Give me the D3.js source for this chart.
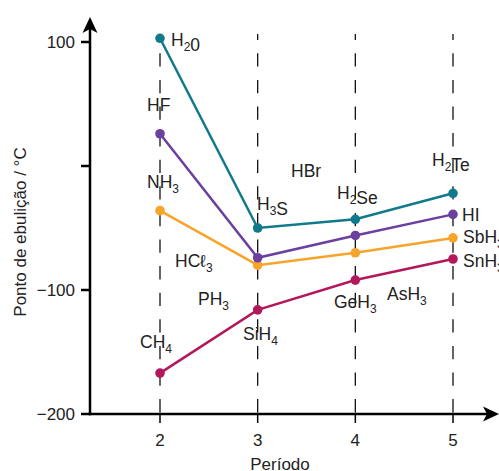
<!DOCTYPE html>
<html>
<head>
<meta charset="utf-8">
<script src="https://cdn.jsdelivr.net/npm/d3@7"></script>
<style>
  body { margin: 0; background: #fff; }
  svg { display: block; font-family: "Liberation Sans", Arial, sans-serif; }
</style>
</head>
<body>
<svg id="drawing_region"></svg>
<script>
// data
const periods = [2, 3, 4, 5];
const group14 = [-167, -116, -92, -75];   // CH4, SiH4, GeH3, SnH3
const group15 = [-36, -80, -70, -58];     // NH3, PH3, AsH3, SbH3
const group16 = [103, -50, -43, -22];     // H2O, H3S, H2Se, H2Te
const group17 = [26, -74, -56, -39];      // HF, HCl, HBr, HI
const yTicks = [100, 0, -100, -200];
const yTickLabels = ['100', '', '\u2212100', '\u2212200'];

const seriesList = [
  { name: 'g14', values: group14, color: '#b3195a' },
  { name: 'g15', values: group15, color: '#f6a52a' },
  { name: 'g17', values: group17, color: '#6b409e' },
  { name: 'g16', values: group16, color: '#107a8b' }
];

// compound labels, "_{..}" = subscript ; placed as [x, y] pixel positions
const labels = [
  ['H_{2}0', 171, 46], ['HF', 147, 111], ['NH_{3}', 147, 188], ['CH_{4}', 140, 348],
  ['HC\u2113_{3}', 175, 267], ['PH_{3}', 198, 305], ['H_{3}S', 257, 210], ['SiH_{4}', 243, 340],
  ['HBr', 291, 177], ['H_{2}Se', 337, 199], ['GeH_{3}', 334, 308], ['AsH_{3}', 387, 300],
  ['H_{2}Te', 432, 166], ['HI', 462, 221], ['SbH_{3}', 463, 243], ['SnH_{3}', 463, 267]
];

const width = 499, height = 471;
const axisX = 90, axisY = 414;

const svg = d3.select('#drawing_region')
  .attr('width', width)
  .attr('height', height);

const xscale = d3.scaleLinear().domain([2, 5]).range([160, 453]);
const yscale = d3.scaleLinear().domain([-200, 100]).range([axisY, 42]);

// dashed guides
svg.append('g').selectAll('line')
  .data(periods)
  .join('line')
  .attr('x1', d => xscale(d)).attr('x2', d => xscale(d))
  .attr('y1', 34).attr('y2', axisY)
  .attr('stroke', '#111')
  .attr('stroke-width', 1.3)
  .attr('stroke-dasharray', '13.3,13.3')
  .attr('stroke-dashoffset', 7.3);

// series
const line = d3.line()
  .x((d, i) => xscale(periods[i]))
  .y(d => yscale(d));

seriesList.forEach(s => {
  const g = svg.append('g');
  g.append('path')
    .attr('d', line(s.values))
    .attr('fill', 'none')
    .attr('stroke', s.color)
    .attr('stroke-width', 2.5);
  g.selectAll('circle')
    .data(s.values)
    .join('circle')
    .attr('cx', (d, i) => xscale(periods[i]))
    .attr('cy', d => yscale(d))
    .attr('r', 4.8)
    .attr('fill', s.color);
});

// axes
const axes = svg.append('g').attr('stroke', '#000').attr('stroke-width', 2.5);
axes.append('line').attr('x1', axisX).attr('x2', axisX).attr('y1', 26).attr('y2', axisY + 1.2);
axes.append('line').attr('x1', axisX - 1.2).attr('x2', width - 8).attr('y1', axisY).attr('y2', axisY);

// arrow heads
svg.append('path')
  .attr('d', `M${axisX},17 L${axisX + 7.5},33 L${axisX},29 L${axisX - 7.5},33 Z`)
  .attr('fill', '#000');
svg.append('path')
  .attr('d', `M${width},${axisY} L${width - 16},${axisY + 7.5} L${width - 12},${axisY} L${width - 16},${axisY - 7.5} Z`)
  .attr('fill', '#000');

// y ticks
const yt = svg.append('g');
yt.selectAll('line')
  .data(yTicks)
  .join('line')
  .attr('x1', axisX - 9).attr('x2', axisX)
  .attr('y1', d => yscale(d)).attr('y2', d => yscale(d))
  .attr('stroke', '#000').attr('stroke-width', 2.5);
yt.selectAll('text')
  .data(yTicks)
  .join('text')
  .attr('x', 75)
  .attr('y', d => yscale(d) + 6)
  .attr('text-anchor', 'end')
  .attr('font-size', '17px')
  .attr('fill', '#222')
  .text((d, i) => yTickLabels[i]);

// x ticks
const xt = svg.append('g');
xt.selectAll('line')
  .data(periods)
  .join('line')
  .attr('x1', d => xscale(d)).attr('x2', d => xscale(d))
  .attr('y1', axisY).attr('y2', axisY + 9)
  .attr('stroke', '#000').attr('stroke-width', 1.5);
xt.selectAll('text')
  .data(periods)
  .join('text')
  .attr('x', d => xscale(d))
  .attr('y', 446)
  .attr('text-anchor', 'middle')
  .attr('font-size', '17px')
  .attr('fill', '#222')
  .text(d => d);

// axis titles
svg.append('text')
  .attr('x', 280).attr('y', 470)
  .attr('text-anchor', 'middle')
  .attr('font-size', '17px')
  .attr('fill', '#222')
  .text('Per\u00edodo');

svg.append('text')
  .attr('transform', 'translate(26, 232) rotate(-90)')
  .attr('text-anchor', 'middle')
  .attr('font-size', '17px')
  .attr('fill', '#222')
  .text('Ponto de ebuli\u00e7\u00e3o / \u00b0C');

// compound labels
labels.forEach(([txt, x, y]) => {
  const t = svg.append('text')
    .attr('x', x).attr('y', y)
    .attr('font-size', '17.5px')
    .attr('fill', '#222');
  txt.split(/(_\{[^}]*\})/).filter(p => p).forEach(p => {
    if (p.startsWith('_{')) {
      t.append('tspan').attr('dy', 5).attr('font-size', '12px').text(p.slice(2, -1));
      t.append('tspan').attr('dy', -5).text('');
    } else {
      t.append('tspan').text(p);
    }
  });
});
</script>
</body>
</html>
